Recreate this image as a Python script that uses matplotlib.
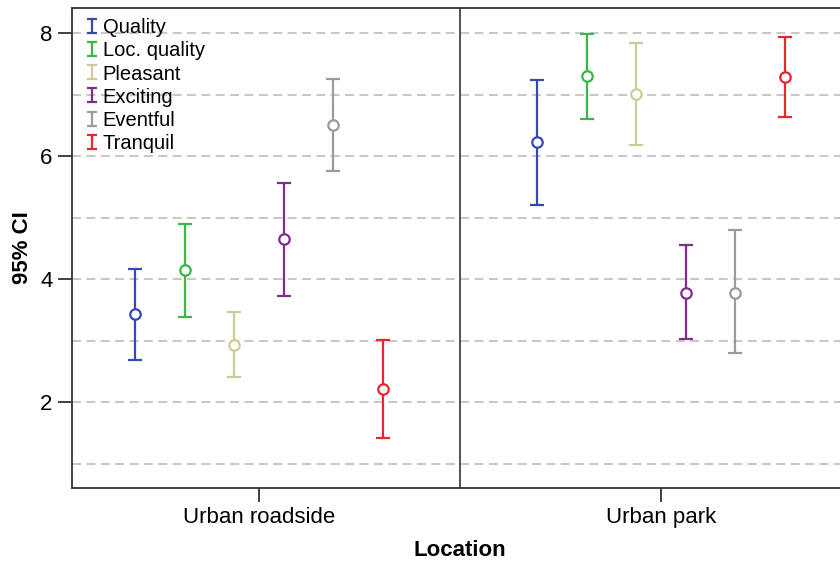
import matplotlib
matplotlib.use("Agg")
import matplotlib.pyplot as plt
from matplotlib.path import Path
from matplotlib.lines import Line2D
import numpy as np

plt.rcParams['font.family'] = ['Liberation Sans', 'DejaVu Sans']

locations = ["Urban roadside", "Urban park"]
measures = ["Quality", "Loc. quality", "Pleasant", "Exciting", "Eventful", "Tranquil"]
colors = ["#3449b4", "#3db54b", "#cdcc99", "#7d2e88", "#9b9b9b", "#e8262d"]

# mean, lower and upper bound of the 95% CI, per measure, per location
means = {
    "Urban roadside": [3.43, 4.15, 2.93, 4.65, 6.50, 2.21],
    "Urban park":     [6.23, 7.30, 7.01, 3.78, 3.78, 7.29],
}
lower = {
    "Urban roadside": [2.69, 3.39, 2.40, 3.72, 5.76, 1.42],
    "Urban park":     [5.20, 6.60, 6.18, 3.03, 2.79, 6.63],
}
upper = {
    "Urban roadside": [4.17, 4.89, 3.46, 5.56, 7.25, 3.01],
    "Urban park":     [7.24, 7.98, 7.83, 4.55, 4.79, 7.93],
}

fig = plt.figure(figsize=(8.4, 5.63), dpi=100)
ax = fig.add_axes([72/840, 75/563, 776/840, 480/563])

step = 0.1234
offsets = (np.arange(len(measures)) - (len(measures) - 1) / 2) * step

for li, loc in enumerate(locations):
    for mi, m in enumerate(measures):
        x = li + offsets[mi]
        mu = means[loc][mi]
        lo = lower[loc][mi]
        hi = upper[loc][mi]
        ax.errorbar([x], [mu], yerr=[[mu - lo], [hi - mu]], fmt='o',
                    color=colors[mi], ecolor=colors[mi], elinewidth=1.6,
                    capsize=5, capthick=1.6, markersize=7.5,
                    markerfacecolor='white', markeredgecolor=colors[mi],
                    markeredgewidth=1.6, zorder=3)

for yv in range(1, 9):
    ax.axhline(yv, color='#c8c8c8', lw=1.5, ls=(0, (4.3, 2.6)), zorder=1)

ax.axvline(0.5, color='#444444', lw=1.3, zorder=2)

ax.set_xlim(-0.465, 1.465)
ax.set_ylim(0.602, 8.407)
ax.set_xticks([0, 1])
ax.set_xticklabels(locations)
ax.set_yticks([2, 4, 6, 8])
ax.tick_params(axis='both', labelsize=16, length=10, width=1.3,
               color='#333333', direction='out', pad=4)

for side in ['left', 'bottom', 'top']:
    ax.spines[side].set_color('#333333')
    ax.spines[side].set_linewidth(1.3)
ax.spines['right'].set_visible(False)

ax.set_xlabel("Location", fontsize=16, fontweight='bold', labelpad=8)
ax.set_ylabel("95% CI", fontsize=16, fontweight='bold', labelpad=5)

# I-beam legend glyphs
ibeam = Path([(-0.7, 1), (0.7, 1), (0, 1), (0, -1), (-0.7, -1), (0.7, -1)],
             [Path.MOVETO, Path.LINETO, Path.MOVETO, Path.LINETO,
              Path.MOVETO, Path.LINETO])
handles = [Line2D([], [], linestyle='none', marker=ibeam, markersize=10.5,
                  markeredgewidth=1.6, color=c, markerfacecolor='none')
           for c in colors]
ax.legend(handles, measures, loc='upper left', frameon=False, fontsize=14.5,
          handlelength=0.6, handletextpad=0.25, labelspacing=0.2,
          borderaxespad=0.0, bbox_to_anchor=(0.007, 0.995))

fig.savefig("out.png", dpi=100)
